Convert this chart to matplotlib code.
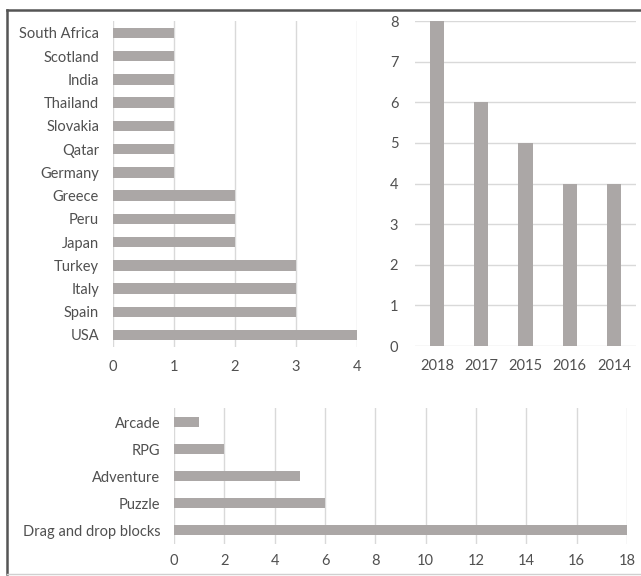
import matplotlib.pyplot as plt
from matplotlib.lines import Line2D

plt.rcParams['font.family'] = ['Lato', 'DejaVu Sans']

# Landen (van onder naar boven)
countries = ["USA", "Spain", "Italy", "Turkey", "Japan", "Peru", "Greece",
             "Germany", "Qatar", "Slovakia", "Thailand", "India", "Scotland", "South Africa"]
country_counts = [4, 3, 3, 3, 2, 2, 2, 1, 1, 1, 1, 1, 1, 1]

years = ["2018", "2017", "2015", "2016", "2014"]
year_counts = [8, 6, 5, 4, 4]

genres = ["Drag and drop blocks", "Puzzle", "Adventure", "RPG", "Arcade"]
genre_counts = [18, 6, 5, 2, 1]

bar_color = "#aba7a6"
grid_color = "#d9d9d9"
text_color = "#505050"
fs = 10.5

fig = plt.figure(figsize=(6.41, 5.76), dpi=100)


def style(ax):
    for s in ax.spines.values():
        s.set_visible(False)
    ax.tick_params(length=0, colors=text_color, labelsize=fs)
    ax.set_axisbelow(True)


# Linksboven: landen
ax1 = fig.add_axes([0.1763, 0.3983, 0.3807, 0.5646])
ax1.barh(countries, country_counts, height=0.45, color=bar_color)
ax1.set_xlim(0, 4)
ax1.set_ylim(-0.5, len(countries) - 0.5)
ax1.set_xticks(range(5))
ax1.xaxis.grid(True, color=grid_color, lw=1)
style(ax1)
ax1.tick_params(axis="y", pad=10)
ax1.tick_params(axis="x", pad=9.5)

# Rechtsboven: jaren
ax2 = fig.add_axes([0.6473, 0.3993, 0.3451, 0.5642])
ax2.bar(years, year_counts, width=0.32, color=bar_color)
ax2.set_ylim(0, 8)
ax2.set_xlim(-0.5, len(years) - 0.5)
ax2.set_yticks(range(9))
ax2.yaxis.grid(True, color=grid_color, lw=1)
style(ax2)
ax2.tick_params(axis="y", pad=12)
ax2.tick_params(axis="x", pad=9)

# Onder: genres
ax3 = fig.add_axes([0.2715, 0.0564, 0.7067, 0.2344])
ax3.barh(genres, genre_counts, height=0.37, color=bar_color)
ax3.set_xlim(0, 18)
ax3.set_ylim(-0.5, len(genres) - 0.5)
ax3.set_xticks(range(0, 19, 2))
ax3.xaxis.grid(True, color=grid_color, lw=1)
style(ax3)
ax3.tick_params(axis="y", pad=10)
ax3.tick_params(axis="x", pad=7.5)

# Kader
fig.add_artist(Line2D([7 / 641, 1], [1 - 10 / 576] * 2, color="#555555", lw=1.8))
fig.add_artist(Line2D([7 / 641] * 2, [1 - 574 / 576, 1 - 10 / 576], color="#555555", lw=1.8))
fig.add_artist(Line2D([7 / 641, 1], [1 - 574 / 576] * 2, color="#d0d0d0", lw=1))

plt.savefig("out.png", dpi=100)
